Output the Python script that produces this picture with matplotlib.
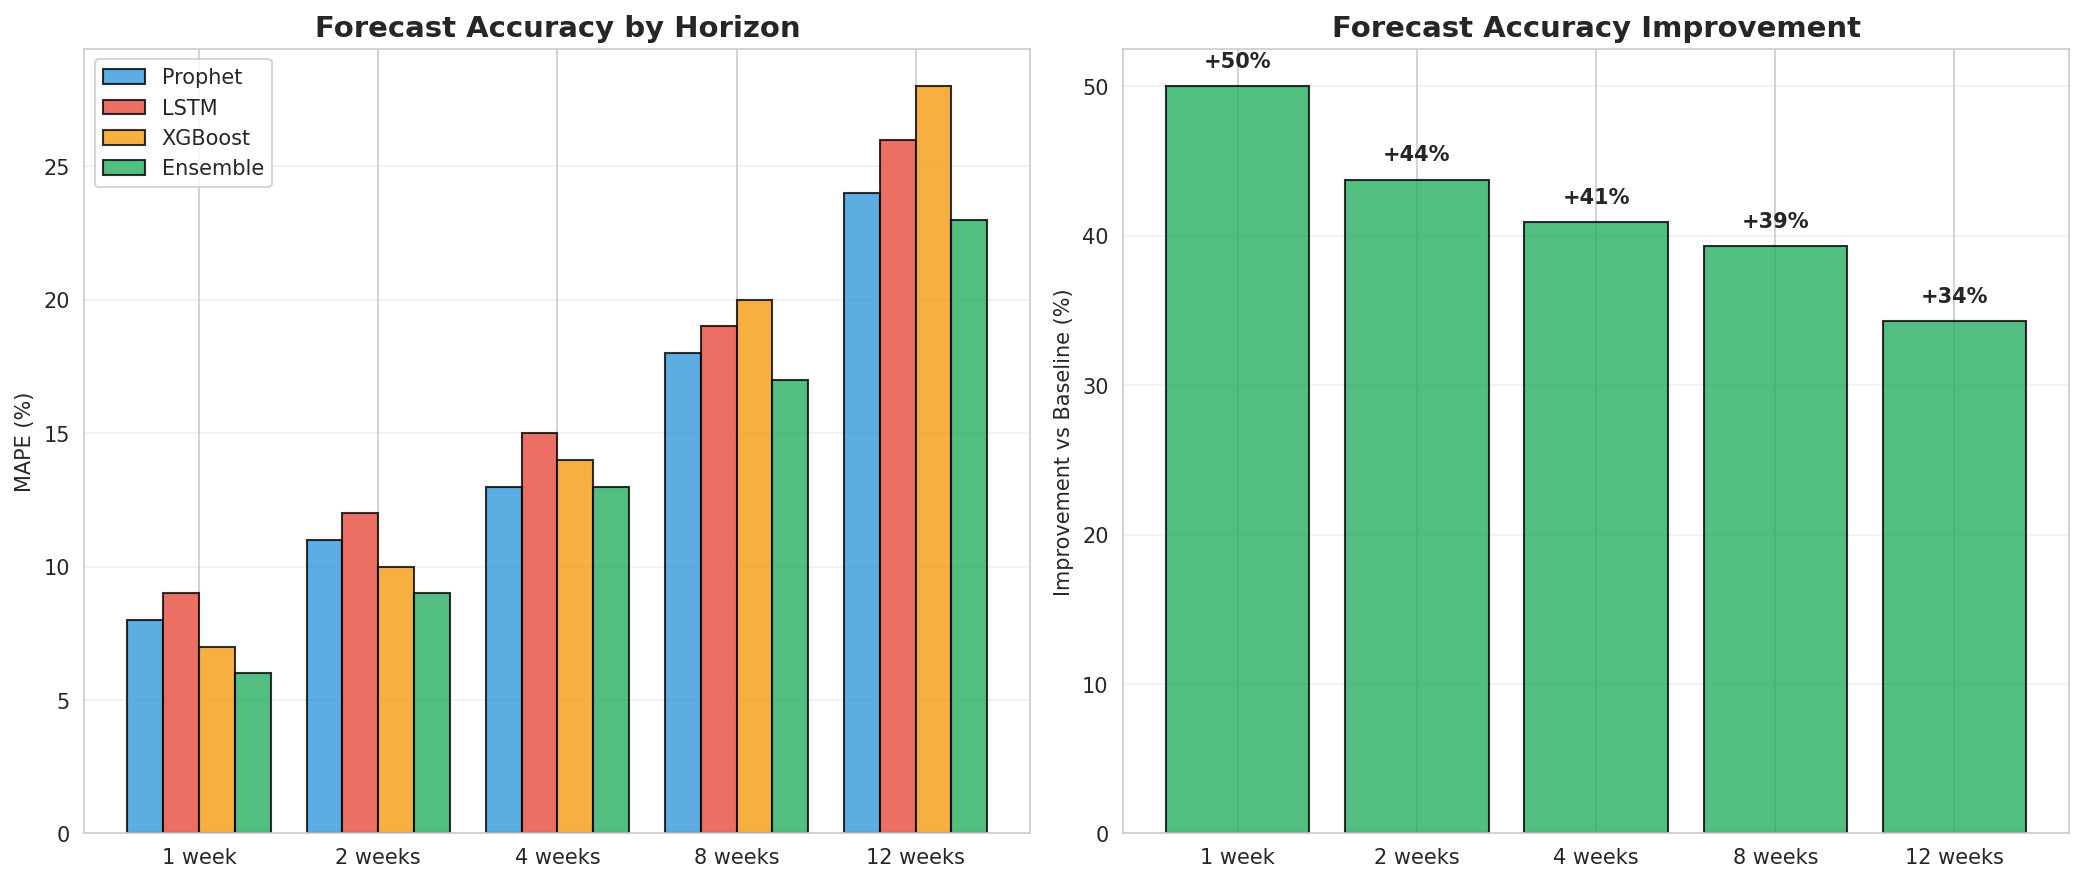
import numpy as np
import matplotlib.pyplot as plt
import seaborn as sns

sns.set_style('whitegrid')

horizons = ['1 week', '2 weeks', '4 weeks', '8 weeks', '12 weeks']
models = ['Prophet', 'LSTM', 'XGBoost', 'Ensemble']
colors = ['#3498db', '#e74c3c', '#f39c12', '#27ae60']

prophet = [8, 11, 13, 18, 24]
lstm = [9, 12, 15, 19, 26]
xgboost = [7, 10, 14, 20, 28]
ensemble = [6, 9, 13, 17, 23]

baseline = [12, 16, 22, 28, 35]

mape = [prophet, lstm, xgboost, ensemble]
improvement = [(b - e) / b * 100 for b, e in zip(baseline, ensemble)]

fig, (ax1, ax2) = plt.subplots(1, 2, figsize=(14, 6))

x = np.arange(len(horizons))
width = 0.2
for i, (name, vals) in enumerate(zip(models, mape)):
    ax1.bar(x + (i - 1.5) * width, vals, width, label=name, color=colors[i],
            alpha=0.8, edgecolor='black', linewidth=1)
ax1.set_xticks(x)
ax1.set_xticklabels(horizons)
ax1.set_ylabel('MAPE (%)')
ax1.set_title('Forecast Accuracy by Horizon', fontsize=14, fontweight='bold')
ax1.legend(loc='upper left')
ax1.grid(axis='y', alpha=0.3)

bars = ax2.bar(x, improvement, 0.8, color='#27ae60', alpha=0.8,
               edgecolor='black', linewidth=1)
for b, v in zip(bars, improvement):
    ax2.text(b.get_x() + b.get_width() / 2, v + 1, f'+{v:.0f}%',
             ha='center', va='bottom', fontweight='bold', fontsize=10)
ax2.set_xticks(x)
ax2.set_xticklabels(horizons)
ax2.set_ylabel('Improvement vs Baseline (%)')
ax2.set_title('Forecast Accuracy Improvement', fontsize=14, fontweight='bold')
ax2.grid(axis='y', alpha=0.3)

plt.tight_layout()
plt.savefig('out.png', dpi=150, bbox_inches='tight')
